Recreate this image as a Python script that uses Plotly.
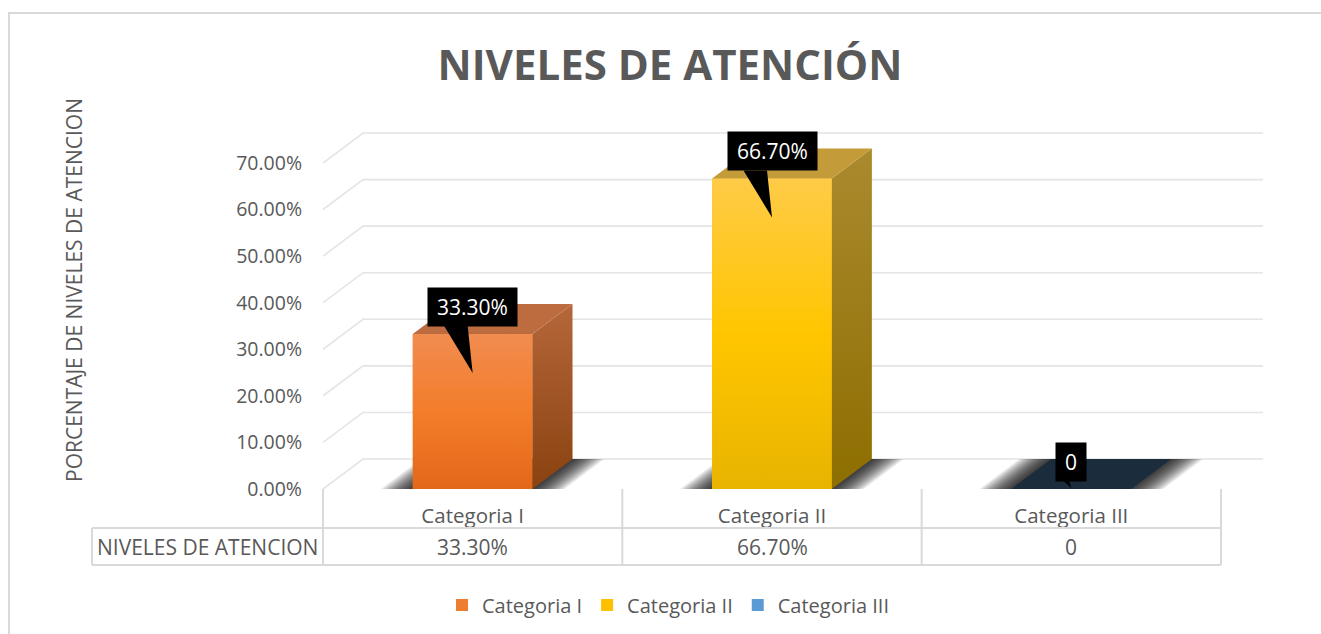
import plotly.graph_objects as go

# ---- data -------------------------------------------------------------
categories = ["Categoria I", "Categoria II", "Categoria III"]
values = [33.3, 66.7, 0.0]                 # percent
value_labels = ["33.30%", "66.70%", "0"]
series_name = "NIVELES DE ATENCION"
y_ticks = [0, 10, 20, 30, 40, 50, 60, 70]
y_tick_labels = ["0.00%", "10.00%", "20.00%", "30.00%",
                 "40.00%", "50.00%", "60.00%", "70.00%"]
chart_title = "NIVELES DE ATENCIÓN"
y_title = "PORCENTAJE DE NIVELES DE ATENCION"

# ---- styling ----------------------------------------------------------
legend_colors = ["#ED7D31", "#FFC000", "#5B9BD5"]
front_scales = [
    [[0, "#E3681A"], [0.5, "#F37D2A"], [1, "#F18C50"]],
    [[0, "#E8B400"], [0.5, "#FFC600"], [1, "#FFCB47"]],
    [[0, "#1B2C3D"], [1, "#1B2C3D"]],
]
side_scales = [
    [[0, "#8A4210"], [1, "#B5673A"]],
    [[0, "#8D6E00"], [1, "#AA8A2E"]],
    [[0, "#14212E"], [1, "#14212E"]],
]
top_colors = ["#BC6C3F", "#C39B38", "#1B2C3D"]
TEXT = "#595959"
LINE = "#D9D9D9"
GRID = "#E4E4E4"
FONT = "Open Sans"

W, H = 1321, 634
PL, PR, PT, PB = 323, 1275, 100, 580      # plot area (px)
X_UNIT = 299.33                            # px per category
Y_ZERO = 489                               # px of the 0 % level (front)
Y_UNIT = 4.657                             # px per percentage point
DEPTH_X, DEPTH_Y = 40, 30                  # px shift of the back wall
BAR_W = 0.4

x_range = [-0.5, -0.5 + (PR - PL) / X_UNIT]
y_range = [(Y_ZERO - PB) / Y_UNIT, (Y_ZERO - PT) / Y_UNIT]
ddx = DEPTH_X / X_UNIT
ddy = DEPTH_Y / Y_UNIT

# approximate Open Sans advance widths (em) for the callout text
CHAR_EM = {".": 0.267, "%": 0.823}


def text_width(s, size):
    return sum(CHAR_EM.get(c, 0.572) for c in s) * size


def paper_x(xp):
    return (xp - PL) / (PR - PL)


def paper_y(yp):
    return (PB - yp) / (PB - PT)


def data_to_px_x(x):
    return PL + (x + 0.5) * X_UNIT


fig = go.Figure()

# front faces as real bars (carry the legend)
for i, (cat, v) in enumerate(zip(categories, values)):
    fig.add_trace(go.Bar(
        x=[i], y=[v], width=BAR_W, name=cat,
        marker=dict(color=legend_colors[i], line=dict(width=0)),
        hoverinfo="skip", showlegend=True,
    ))

# shaded faces of each 3-D column
for i, v in enumerate(values):
    l, r = i - BAR_W / 2, i + BAR_W / 2
    if v > 0:
        fig.add_trace(go.Scatter(
            x=[l, r, r, l, l], y=[0, 0, v, v, 0], mode="lines",
            line=dict(width=0), fill="toself",
            fillgradient=dict(type="vertical", colorscale=front_scales[i],
                              start=0, stop=v),
            hoverinfo="skip", showlegend=False,
        ))
        fig.add_trace(go.Scatter(
            x=[r, r + ddx, r + ddx, r, r], y=[0, ddy, v + ddy, v, 0],
            mode="lines", line=dict(width=0), fill="toself",
            fillgradient=dict(type="vertical", colorscale=side_scales[i],
                              start=0, stop=v + ddy),
            hoverinfo="skip", showlegend=False,
        ))
    fig.add_trace(go.Scatter(
        x=[l, r, r + ddx, l + ddx, l], y=[v, v, v + ddy, v + ddy, v],
        mode="lines", line=dict(width=0), fill="toself",
        fillcolor=top_colors[i], hoverinfo="skip", showlegend=False,
    ))

shapes = []

# back-wall gridlines with their slanted side-wall segment
x_back_end = 2.5 + ddx + 2 / X_UNIT
for t in y_ticks:
    shapes.append(dict(
        type="path", xref="x", yref="y", layer="below",
        path=f"M{-0.5},{t} L{-0.5 + ddx},{t + ddy} L{x_back_end},{t + ddy}",
        line=dict(color=GRID, width=1.6),
    ))

# soft floor shadows around each column footprint (stacked translucent
# layers give a blurred edge)
for i, v in enumerate(values):
    l, r = i - BAR_W / 2, i + BAR_W / 2
    for e in range(32, -1, -2):
        ex = e / X_UNIT
        shapes.append(dict(
            type="path", xref="x", yref="y", layer="below",
            path=(f"M{l - ex},0 L{r + ex},0 L{r + ddx + ex},{ddy} "
                  f"L{l + ddx - ex},{ddy} Z"),
            fillcolor="rgba(0,0,0,0.08)", line=dict(width=0),
        ))

# data-table grid
t_left, t_mid, t_bot = 92, 528, 565
x_edges = [data_to_px_x(b) for b in [-0.5, 0.5, 1.5, 2.5]]
for yp in [t_mid, t_bot]:
    shapes.append(dict(type="line", xref="paper", yref="paper",
                       x0=paper_x(t_left), x1=paper_x(x_edges[-1]),
                       y0=paper_y(yp), y1=paper_y(yp),
                       line=dict(color=LINE, width=2)))
shapes.append(dict(type="line", xref="paper", yref="paper",
                   x0=paper_x(t_left), x1=paper_x(t_left),
                   y0=paper_y(t_mid), y1=paper_y(t_bot),
                   line=dict(color=LINE, width=2)))
for xe in x_edges:
    shapes.append(dict(type="line", xref="paper", yref="paper",
                       x0=paper_x(xe), x1=paper_x(xe),
                       y0=paper_y(Y_ZERO), y1=paper_y(t_bot),
                       line=dict(color=LINE, width=2)))

# outer chart frame
shapes.append(dict(type="rect", xref="paper", yref="paper",
                   x0=paper_x(9), x1=paper_x(W + 20),
                   y0=paper_y(H + 20), y1=paper_y(13),
                   line=dict(color=LINE, width=2)))

annotations = []

# callout labels: black box + pointer wedge
GAP = 7
CALLOUT_SIZE = 21
for i, (v, lab) in enumerate(zip(values, value_labels)):
    bar_h_px = v * Y_UNIT
    big = bar_h_px > 46
    length = 46 if big else 6
    bl, br = (28.5, 5) if big else (8, 2)
    base_y = v + (GAP + 1) / Y_UNIT
    tip_y = v + GAP / Y_UNIT - length / Y_UNIT
    shapes.append(dict(
        type="path", xref="x", yref="y", layer="above",
        path=(f"M{i - bl / X_UNIT},{base_y} L{i - br / X_UNIT},{base_y} "
              f"L{i},{tip_y} Z"),
        fillcolor="#000000", line=dict(width=0),
    ))
    annotations.append(dict(
        x=i, y=v, xref="x", yref="y", text=lab, showarrow=False,
        xanchor="center", yanchor="bottom", yshift=GAP,
        width=text_width(lab, CALLOUT_SIZE) + 8, align="center",
        font=dict(family=FONT, size=CALLOUT_SIZE, color="#FFFFFF"),
        bgcolor="#000000", borderpad=5,
    ))

# table contents
row2_y = paper_y((t_mid + t_bot) / 2)
annotations.append(dict(
    x=paper_x((t_left + x_edges[0]) / 2), y=row2_y,
    xref="paper", yref="paper", text=series_name, showarrow=False,
    xanchor="center", yanchor="middle",
    font=dict(family=FONT, size=21, color=TEXT),
))
for i, lab in enumerate(value_labels):
    annotations.append(dict(
        x=i, y=row2_y, xref="x", yref="paper",
        text=lab, showarrow=False, xanchor="center", yanchor="middle",
        font=dict(family=FONT, size=21, color=TEXT),
    ))

# vertical axis title
annotations.append(dict(
    x=paper_x(74), y=paper_y(290), xref="paper", yref="paper",
    text=y_title, showarrow=False, textangle=-90,
    xanchor="center", yanchor="middle",
    font=dict(family=FONT, size=21, color=TEXT),
))

fig.update_layout(
    width=W, height=H,
    margin=dict(l=PL, r=W - PR, t=PT, b=H - PB, autoexpand=False),
    paper_bgcolor="#FFFFFF", plot_bgcolor="rgba(0,0,0,0)",
    barmode="overlay",
    title=dict(text=f"<b>{chart_title}</b>", x=670 / W, xanchor="center",
               y=1 - 65 / H, yanchor="middle", xref="container",
               yref="container",
               font=dict(family=FONT, size=42, color=TEXT)),
    xaxis=dict(range=x_range, tickvals=[0, 1, 2], ticktext=categories,
               showgrid=False, zeroline=False, showline=False, ticks="",
               anchor="free", position=paper_y(Y_ZERO),
               ticklabelstandoff=12,
               tickfont=dict(family=FONT, size=20.5, color=TEXT),
               fixedrange=True),
    yaxis=dict(range=y_range, tickmode="array", tickvals=y_ticks,
               ticktext=y_tick_labels, showgrid=False, zeroline=False,
               showline=False, ticks="", ticklabelstandoff=20,
               tickfont=dict(family=FONT, size=19.5, color=TEXT),
               fixedrange=True),
    legend=dict(orientation="h", xref="container", yref="container",
                x=668 / W, xanchor="center", y=1 - 605 / H,
                yanchor="middle", font=dict(family=FONT, size=20, color=TEXT),
                traceorder="normal", itemclick=False, itemdoubleclick=False),
    shapes=shapes, annotations=annotations,
    font=dict(family=FONT, color=TEXT),
)

fig.write_html("out.html", config={"displayModeBar": False})
